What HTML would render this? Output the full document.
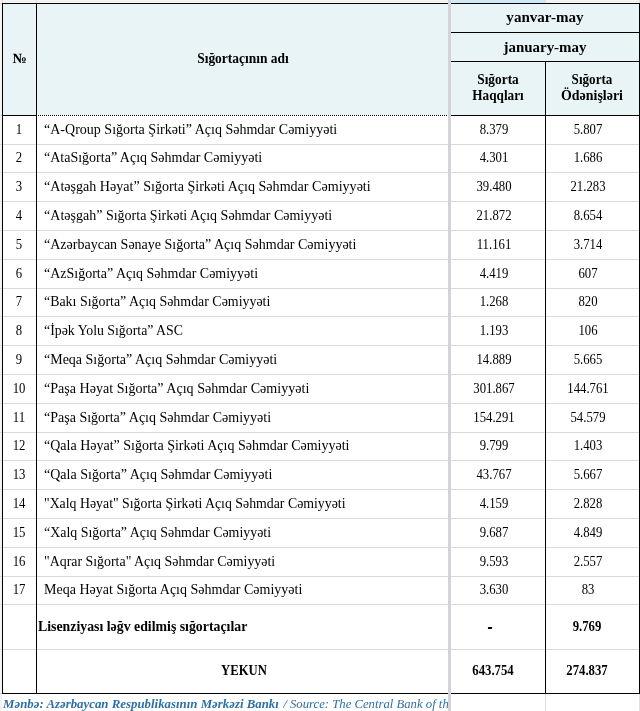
<!DOCTYPE html>
<html><head><meta charset="utf-8"><title>table</title>
<style>
html,body{margin:0;padding:0;}
body{width:640px;height:711px;position:relative;overflow:hidden;background:#fff;font-family:"Liberation Serif",serif;color:#000;}
.a{position:absolute;}
.bg{background:#e9f4f7;}
.bl{background:#000;}
.gl{background:#d9d9d9;}
.t{position:absolute;white-space:nowrap;font-size:14px;line-height:16px;height:16px;transform-origin:0 50%;}
.m{transform-origin:50% 50%;}
.b{font-weight:bold;}
</style></head><body><div id="w" style="position:absolute;left:0;top:0;width:640px;height:711px;overflow:hidden;will-change:transform;">

<div class="a" style="left:0;top:0;width:448px;height:3px;background:#f3f3f3"></div>
<div class="a" style="left:451px;top:0;width:94px;height:3px;background:#d2e8f7"></div>
<div class="a" style="left:545px;top:0;width:95px;height:3px;background:#f3f3f3"></div>
<div class="a" style="left:2px;top:0;width:1px;height:3px;background:#dcdcdc"></div>
<div class="a" style="left:36px;top:0;width:1px;height:3px;background:#dcdcdc"></div>
<div class="a" style="left:545px;top:0;width:1px;height:3px;background:#dcdcdc"></div>
<div class="a" style="left:639px;top:0;width:1px;height:3px;background:#dcdcdc"></div>
<div class="a" style="left:0;top:0;width:2px;height:711px;background:#f3f3f3"></div>
<div class="a" style="left:0;top:3px;width:2px;height:1px;background:#d8d8d8"></div>
<div class="a" style="left:0;top:115px;width:2px;height:1px;background:#d8d8d8"></div>
<div class="a" style="left:0;top:144px;width:2px;height:1px;background:#d8d8d8"></div>
<div class="a" style="left:0;top:172px;width:2px;height:1px;background:#d8d8d8"></div>
<div class="a" style="left:0;top:201px;width:2px;height:1px;background:#d8d8d8"></div>
<div class="a" style="left:0;top:230px;width:2px;height:1px;background:#d8d8d8"></div>
<div class="a" style="left:0;top:259px;width:2px;height:1px;background:#d8d8d8"></div>
<div class="a" style="left:0;top:288px;width:2px;height:1px;background:#d8d8d8"></div>
<div class="a" style="left:0;top:316px;width:2px;height:1px;background:#d8d8d8"></div>
<div class="a" style="left:0;top:345px;width:2px;height:1px;background:#d8d8d8"></div>
<div class="a" style="left:0;top:374px;width:2px;height:1px;background:#d8d8d8"></div>
<div class="a" style="left:0;top:403px;width:2px;height:1px;background:#d8d8d8"></div>
<div class="a" style="left:0;top:432px;width:2px;height:1px;background:#d8d8d8"></div>
<div class="a" style="left:0;top:460px;width:2px;height:1px;background:#d8d8d8"></div>
<div class="a" style="left:0;top:489px;width:2px;height:1px;background:#d8d8d8"></div>
<div class="a" style="left:0;top:518px;width:2px;height:1px;background:#d8d8d8"></div>
<div class="a" style="left:0;top:547px;width:2px;height:1px;background:#d8d8d8"></div>
<div class="a" style="left:0;top:576px;width:2px;height:1px;background:#d8d8d8"></div>
<div class="a" style="left:0;top:604px;width:2px;height:1px;background:#d8d8d8"></div>
<div class="a" style="left:0;top:649px;width:2px;height:1px;background:#d8d8d8"></div>
<div class="a" style="left:0;top:693px;width:2px;height:1px;background:#d8d8d8"></div>
<div class="a bg" style="left:3px;top:4px;width:445px;height:111px"></div>
<div class="a bg" style="left:451px;top:4px;width:188px;height:111px"></div>
<div class="a gl" style="left:3px;top:144px;width:636px;height:1px"></div>
<div class="a gl" style="left:3px;top:172px;width:636px;height:1px"></div>
<div class="a gl" style="left:3px;top:201px;width:636px;height:1px"></div>
<div class="a gl" style="left:3px;top:230px;width:636px;height:1px"></div>
<div class="a gl" style="left:3px;top:259px;width:636px;height:1px"></div>
<div class="a gl" style="left:3px;top:288px;width:636px;height:1px"></div>
<div class="a gl" style="left:3px;top:316px;width:636px;height:1px"></div>
<div class="a gl" style="left:3px;top:345px;width:636px;height:1px"></div>
<div class="a gl" style="left:3px;top:374px;width:636px;height:1px"></div>
<div class="a gl" style="left:3px;top:403px;width:636px;height:1px"></div>
<div class="a gl" style="left:3px;top:432px;width:636px;height:1px"></div>
<div class="a gl" style="left:3px;top:460px;width:636px;height:1px"></div>
<div class="a gl" style="left:3px;top:489px;width:636px;height:1px"></div>
<div class="a gl" style="left:3px;top:518px;width:636px;height:1px"></div>
<div class="a gl" style="left:3px;top:547px;width:636px;height:1px"></div>
<div class="a gl" style="left:3px;top:576px;width:636px;height:1px"></div>
<div class="a gl" style="left:3px;top:604px;width:636px;height:1px"></div>
<div class="a gl" style="left:3px;top:649px;width:636px;height:1px"></div>
<div class="a" style="left:545px;top:694px;width:1px;height:17px;background:#e0e0e0"></div>
<div class="a" style="left:639px;top:694px;width:1px;height:17px;background:#e0e0e0"></div>
<div class="a bl" style="left:2px;top:3px;width:638px;height:1px"></div>
<div class="a bl" style="left:2px;top:693px;width:638px;height:1px"></div>
<div class="a bl" style="left:2px;top:3px;width:1px;height:691px"></div>
<div class="a bl" style="left:36px;top:3px;width:1px;height:691px"></div>
<div class="a bl" style="left:639px;top:3px;width:1px;height:691px"></div>
<div class="a bl" style="left:545px;top:61px;width:1px;height:633px"></div>
<div class="a bl" style="left:451px;top:32px;width:189px;height:1px"></div>
<div class="a bl" style="left:451px;top:61px;width:189px;height:1px"></div>
<div class="a bl" style="left:451px;top:115px;width:189px;height:1px"></div>
<div class="a bl" style="left:2px;top:115px;width:35px;height:1px"></div>
<div class="a" style="left:38px;top:115px;width:410px;height:1px;background:repeating-linear-gradient(90deg,#000 0 1px,transparent 1px 2px)"></div>
<div class="a" style="left:448px;top:0;width:3px;height:711px;background:#d3d4d7"></div>
<div class="t m b" id="hno" style="left:-80.15px;width:200px;text-align:center;top:51.0px;transform:scaleX(1.0158);"><span>№</span></div>
<div class="t m b" id="hname" style="left:142.65px;width:200px;text-align:center;top:51.0px;transform:scaleX(0.9623);"><span>Sığortaçının adı</span></div>
<div class="t m b" id="h1" style="left:444.55px;width:200px;text-align:center;top:9.0px;transform:scaleX(1.0047);font-size:15px;"><span>yanvar-may</span></div>
<div class="t m b" id="h2" style="left:444.55px;width:200px;text-align:center;top:39.0px;transform:scaleX(0.9949);font-size:15px;"><span>january-may</span></div>
<div class="t m b" id="h3" style="left:398.30px;width:200px;text-align:center;top:72.0px;transform:scaleX(0.9549);"><span>Sığorta</span></div>
<div class="t m b" id="h4" style="left:398.15px;width:200px;text-align:center;top:88.0px;transform:scaleX(0.9455);"><span>Haqqları</span></div>
<div class="t m b" id="h5" style="left:492.10px;width:200px;text-align:center;top:72.0px;transform:scaleX(0.9366);"><span>Sığorta</span></div>
<div class="t m b" id="h6" style="left:492.25px;width:200px;text-align:center;top:88.0px;transform:scaleX(0.9946);"><span>Ödənişləri</span></div>
<div class="t m " id="r1" style="left:-81.40px;width:200px;text-align:center;top:121.5px;transform:scaleX(0.91);"><span>1</span></div>
<div class="t " id="n1" style="left:44.1px;top:121.5px;transform:scaleX(1.0014);">“A-Qroup Sığorta Şirkəti” Açıq Səhmdar Cəmiyyəti</div>
<div class="t m " id="a1" style="left:394.30px;width:200px;text-align:center;top:121.5px;transform:scaleX(0.91);"><span>8.379</span></div>
<div class="t m " id="b1" style="left:488.10px;width:200px;text-align:center;top:121.5px;transform:scaleX(0.91);"><span>5.807</span></div>
<div class="t m " id="r2" style="left:-81.40px;width:200px;text-align:center;top:150.3px;transform:scaleX(0.91);"><span>2</span></div>
<div class="t " id="n2" style="left:44.1px;top:150.3px;transform:scaleX(1.0003);">“AtaSığorta” Açıq Səhmdar Cəmiyyəti</div>
<div class="t m " id="a2" style="left:394.30px;width:200px;text-align:center;top:150.3px;transform:scaleX(0.91);"><span>4.301</span></div>
<div class="t m " id="b2" style="left:488.10px;width:200px;text-align:center;top:150.3px;transform:scaleX(0.91);"><span>1.686</span></div>
<div class="t m " id="r3" style="left:-81.40px;width:200px;text-align:center;top:179.1px;transform:scaleX(0.91);"><span>3</span></div>
<div class="t " id="n3" style="left:44.1px;top:179.1px;transform:scaleX(1.0051);">“Atəşgah Həyat” Sığorta Şirkəti Açıq Səhmdar Cəmiyyəti</div>
<div class="t m " id="a3" style="left:394.30px;width:200px;text-align:center;top:179.1px;transform:scaleX(0.91);"><span>39.480</span></div>
<div class="t m " id="b3" style="left:488.10px;width:200px;text-align:center;top:179.1px;transform:scaleX(0.91);"><span>21.283</span></div>
<div class="t m " id="r4" style="left:-81.40px;width:200px;text-align:center;top:207.9px;transform:scaleX(0.91);"><span>4</span></div>
<div class="t " id="n4" style="left:44.1px;top:207.9px;transform:scaleX(1.0000);">“Atəşgah” Sığorta Şirkəti Açıq Səhmdar Cəmiyyəti</div>
<div class="t m " id="a4" style="left:394.30px;width:200px;text-align:center;top:207.9px;transform:scaleX(0.91);"><span>21.872</span></div>
<div class="t m " id="b4" style="left:488.10px;width:200px;text-align:center;top:207.9px;transform:scaleX(0.91);"><span>8.654</span></div>
<div class="t m " id="r5" style="left:-81.40px;width:200px;text-align:center;top:236.7px;transform:scaleX(0.91);"><span>5</span></div>
<div class="t " id="n5" style="left:44.1px;top:236.7px;transform:scaleX(1.0007);">“Azərbaycan Sənaye Sığorta” Açıq Səhmdar Cəmiyyəti</div>
<div class="t m " id="a5" style="left:394.30px;width:200px;text-align:center;top:236.7px;transform:scaleX(0.91);"><span>11.161</span></div>
<div class="t m " id="b5" style="left:488.10px;width:200px;text-align:center;top:236.7px;transform:scaleX(0.91);"><span>3.714</span></div>
<div class="t m " id="r6" style="left:-81.40px;width:200px;text-align:center;top:265.5px;transform:scaleX(0.91);"><span>6</span></div>
<div class="t " id="n6" style="left:44.1px;top:265.5px;transform:scaleX(0.9994);">“AzSığorta” Açıq Səhmdar Cəmiyyəti</div>
<div class="t m " id="a6" style="left:394.30px;width:200px;text-align:center;top:265.5px;transform:scaleX(0.91);"><span>4.419</span></div>
<div class="t m " id="b6" style="left:488.10px;width:200px;text-align:center;top:265.5px;transform:scaleX(0.91);"><span>607</span></div>
<div class="t m " id="r7" style="left:-81.40px;width:200px;text-align:center;top:294.3px;transform:scaleX(0.91);"><span>7</span></div>
<div class="t " id="n7" style="left:44.1px;top:294.3px;transform:scaleX(0.9932);">“Bakı Sığorta” Açıq Səhmdar Cəmiyyəti</div>
<div class="t m " id="a7" style="left:394.30px;width:200px;text-align:center;top:294.3px;transform:scaleX(0.91);"><span>1.268</span></div>
<div class="t m " id="b7" style="left:488.10px;width:200px;text-align:center;top:294.3px;transform:scaleX(0.91);"><span>820</span></div>
<div class="t m " id="r8" style="left:-81.40px;width:200px;text-align:center;top:323.1px;transform:scaleX(0.91);"><span>8</span></div>
<div class="t " id="n8" style="left:44.1px;top:323.1px;transform:scaleX(0.9872);">“İpək Yolu Sığorta” ASC</div>
<div class="t m " id="a8" style="left:394.30px;width:200px;text-align:center;top:323.1px;transform:scaleX(0.91);"><span>1.193</span></div>
<div class="t m " id="b8" style="left:488.10px;width:200px;text-align:center;top:323.1px;transform:scaleX(0.91);"><span>106</span></div>
<div class="t m " id="r9" style="left:-81.40px;width:200px;text-align:center;top:351.9px;transform:scaleX(0.91);"><span>9</span></div>
<div class="t " id="n9" style="left:44.1px;top:351.9px;transform:scaleX(0.9997);">“Meqa Sığorta” Açıq Səhmdar Cəmiyyəti</div>
<div class="t m " id="a9" style="left:394.30px;width:200px;text-align:center;top:351.9px;transform:scaleX(0.91);"><span>14.889</span></div>
<div class="t m " id="b9" style="left:488.10px;width:200px;text-align:center;top:351.9px;transform:scaleX(0.91);"><span>5.665</span></div>
<div class="t m " id="r10" style="left:-81.40px;width:200px;text-align:center;top:380.7px;transform:scaleX(0.91);"><span>10</span></div>
<div class="t " id="n10" style="left:44.1px;top:380.7px;transform:scaleX(1.0049);">“Paşa Həyat Sığorta” Açıq Səhmdar Cəmiyyəti</div>
<div class="t m " id="a10" style="left:394.30px;width:200px;text-align:center;top:380.7px;transform:scaleX(0.91);"><span>301.867</span></div>
<div class="t m " id="b10" style="left:488.10px;width:200px;text-align:center;top:380.7px;transform:scaleX(0.91);"><span>144.761</span></div>
<div class="t m " id="r11" style="left:-81.40px;width:200px;text-align:center;top:409.5px;transform:scaleX(0.91);"><span>11</span></div>
<div class="t " id="n11" style="left:44.1px;top:409.5px;transform:scaleX(1.0002);">“Paşa Sığorta” Açıq Səhmdar Cəmiyyəti</div>
<div class="t m " id="a11" style="left:394.30px;width:200px;text-align:center;top:409.5px;transform:scaleX(0.91);"><span>154.291</span></div>
<div class="t m " id="b11" style="left:488.10px;width:200px;text-align:center;top:409.5px;transform:scaleX(0.91);"><span>54.579</span></div>
<div class="t m " id="r12" style="left:-81.40px;width:200px;text-align:center;top:438.3px;transform:scaleX(0.91);"><span>12</span></div>
<div class="t " id="n12" style="left:44.1px;top:438.3px;transform:scaleX(0.9997);">“Qala Həyat” Sığorta Şirkəti Açıq Səhmdar Cəmiyyəti</div>
<div class="t m " id="a12" style="left:394.30px;width:200px;text-align:center;top:438.3px;transform:scaleX(0.91);"><span>9.799</span></div>
<div class="t m " id="b12" style="left:488.10px;width:200px;text-align:center;top:438.3px;transform:scaleX(0.91);"><span>1.403</span></div>
<div class="t m " id="r13" style="left:-81.40px;width:200px;text-align:center;top:467.1px;transform:scaleX(0.91);"><span>13</span></div>
<div class="t " id="n13" style="left:44.1px;top:467.1px;transform:scaleX(1.0021);">“Qala Sığorta” Açıq Səhmdar Cəmiyyəti</div>
<div class="t m " id="a13" style="left:394.30px;width:200px;text-align:center;top:467.1px;transform:scaleX(0.91);"><span>43.767</span></div>
<div class="t m " id="b13" style="left:488.10px;width:200px;text-align:center;top:467.1px;transform:scaleX(0.91);"><span>5.667</span></div>
<div class="t m " id="r14" style="left:-81.40px;width:200px;text-align:center;top:495.9px;transform:scaleX(0.91);"><span>14</span></div>
<div class="t " id="n14" style="left:44.1px;top:495.9px;transform:scaleX(0.9873);">&quot;Xalq Həyat&quot; Sığorta Şirkəti Açıq Səhmdar Cəmiyyəti</div>
<div class="t m " id="a14" style="left:394.30px;width:200px;text-align:center;top:495.9px;transform:scaleX(0.91);"><span>4.159</span></div>
<div class="t m " id="b14" style="left:488.10px;width:200px;text-align:center;top:495.9px;transform:scaleX(0.91);"><span>2.828</span></div>
<div class="t m " id="r15" style="left:-81.40px;width:200px;text-align:center;top:524.7px;transform:scaleX(0.91);"><span>15</span></div>
<div class="t " id="n15" style="left:44.1px;top:524.7px;transform:scaleX(0.9933);">“Xalq Sığorta” Açıq Səhmdar Cəmiyyəti</div>
<div class="t m " id="a15" style="left:394.30px;width:200px;text-align:center;top:524.7px;transform:scaleX(0.91);"><span>9.687</span></div>
<div class="t m " id="b15" style="left:488.10px;width:200px;text-align:center;top:524.7px;transform:scaleX(0.91);"><span>4.849</span></div>
<div class="t m " id="r16" style="left:-81.40px;width:200px;text-align:center;top:553.5px;transform:scaleX(0.91);"><span>16</span></div>
<div class="t " id="n16" style="left:44.1px;top:553.5px;transform:scaleX(0.9920);">&quot;Aqrar Sığorta&quot; Açıq Səhmdar Cəmiyyəti</div>
<div class="t m " id="a16" style="left:394.30px;width:200px;text-align:center;top:553.5px;transform:scaleX(0.91);"><span>9.593</span></div>
<div class="t m " id="b16" style="left:488.10px;width:200px;text-align:center;top:553.5px;transform:scaleX(0.91);"><span>2.557</span></div>
<div class="t m " id="r17" style="left:-81.40px;width:200px;text-align:center;top:582.3px;transform:scaleX(0.91);"><span>17</span></div>
<div class="t " id="n17" style="left:44.1px;top:582.3px;transform:scaleX(1.0024);">Meqa Həyat Sığorta Açıq Səhmdar Cəmiyyəti</div>
<div class="t m " id="a17" style="left:394.30px;width:200px;text-align:center;top:582.3px;transform:scaleX(0.91);"><span>3.630</span></div>
<div class="t m " id="b17" style="left:488.10px;width:200px;text-align:center;top:582.3px;transform:scaleX(0.91);"><span>83</span></div>
<div class="t b" id="lis" style="left:38.2px;top:619.0px;transform:scaleX(0.9876);">Lisenziyası ləğv edilmiş sığortaçılar</div>
<div class="a" style="left:488px;top:626.6px;width:4.4px;height:2.2px;background:#000;transform:skewX(-12deg)"></div>
<div class="t m b" id="lb" style="left:487.20px;width:200px;text-align:center;top:619.0px;transform:scaleX(0.91);"><span>9.769</span></div>
<div class="t m b" id="yek" style="left:144.10px;width:200px;text-align:center;top:663.0px;transform:scaleX(0.9058);"><span>YEKUN</span></div>
<div class="t m b" id="ya" style="left:393.20px;width:200px;text-align:center;top:663.0px;transform:scaleX(0.91);"><span>643.754</span></div>
<div class="t m b" id="yb" style="left:487.20px;width:200px;text-align:center;top:663.0px;transform:scaleX(0.91);"><span>274.837</span></div>
<div class="a" style="left:0;top:694px;width:448px;height:17px;overflow:hidden">
<div class="t b" id="f1" style="left:3.0px;top:2.0px;transform:scaleX(0.9884);font-style:italic;color:#2f6fa5;font-size:13px;">Mənbə: Azərbaycan Respublikasının Mərkəzi Bankı</div>
<div class="t" style="left:283.2px;top:2.0px;font-style:italic;color:#2f6fa5;font-size:13px;">/</div>
<div class="t " id="f3" style="left:289.8px;top:2.0px;transform:scaleX(0.9778);font-style:italic;color:#2f6fa5;font-size:13px;">Source: The Central Bank of the</div>
</div>
</div></body></html>
